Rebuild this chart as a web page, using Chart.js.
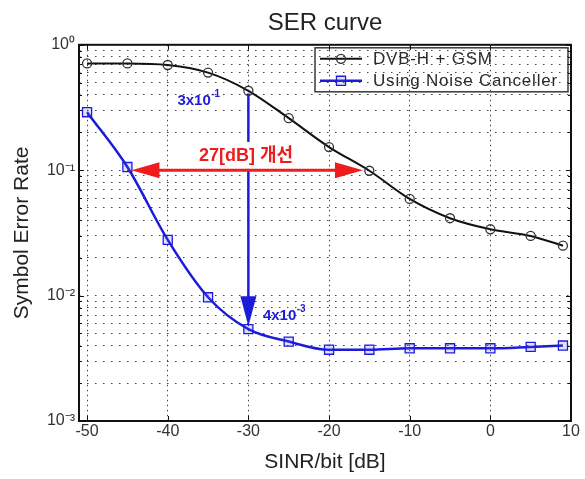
<!DOCTYPE html>
<html><head><meta charset="utf-8">
<script src="https://cdn.jsdelivr.net/npm/chart.js@4/dist/chart.umd.min.js"></script>
<style>html,body{margin:0;padding:0;background:#fff}</style>
</head><body>
<canvas id="c" width="585" height="479"></canvas>
<script>
// ---- data ----
const sinr = [-50, -45, -40, -35, -30, -25, -20, -15, -10, -5, 0, 5, 9];
const serDvbGsm = [0.71, 0.71, 0.69, 0.60, 0.43, 0.26, 0.153, 0.099, 0.059, 0.0414, 0.0338, 0.0299, 0.025];
const serNoiseCanceller = [0.29, 0.106, 0.0278, 0.0097, 0.0054, 0.0043, 0.0037, 0.0037, 0.0038, 0.0038, 0.0038, 0.0039, 0.0040];
const seriesLabels = ['DVB-H + GSM', 'Using Noise Canceller'];
const xTickValues = [-50, -40, -30, -20, -10, 0, 10];
const yDecadeValues = [0.001, 0.01, 0.1, 1];
const yTickLabels = ['10\u207B\u00B3', '10\u207B\u00B2', '10\u207B\u00B9', '10\u2070'];
const chartTitle = 'SER curve';
const xAxisTitle = 'SINR/bit [dB]';
const yAxisTitle = 'Symbol Error Rate';
const gainLabel = '27[dB] 개선';
const gainArrowX = [-44.5, -15.8];
const gainArrowY = 0.1;
const dropArrowX = -30;
const dropArrowY = [0.41, 0.0057];
const upperNote = ['3x10', '-1'];
const lowerNote = ['4x10', '-3'];

const FONT = "'Liberation Sans', Arial, Helvetica, sans-serif";
const KFONT = "'Liberation Sans', 'Noto Sans CJK KR', sans-serif";
const BLUE = '#1c1cd8';
const RED = '#ee1d1d';

const yMinorTicks = [];
yDecadeValues.slice(0, -1).forEach(d => { for (let m = 2; m <= 9; m++) yMinorTicks.push(m * d); });
const yAllTicks = yDecadeValues.concat(yMinorTicks).sort((a, b) => a - b);

function arrowHead(ctx, tx, ty, dx, dy, len, half) {
  const bx = tx - dx * len, by = ty - dy * len, px = -dy, py = dx;
  ctx.beginPath();
  ctx.moveTo(tx, ty);
  ctx.lineTo(bx + px * half, by + py * half);
  ctx.lineTo(bx - px * half, by - py * half);
  ctx.closePath();
  ctx.fill();
}
function supText(ctx, x, y, base, exp, size, color) {
  ctx.fillStyle = color; ctx.textAlign = 'left'; ctx.textBaseline = 'middle';
  ctx.font = `bold ${size}px ${FONT}`;
  ctx.fillText(base, x, y);
  const w = ctx.measureText(base).width;
  ctx.font = `bold ${Math.round(size * 0.66)}px ${FONT}`;
  ctx.fillText(exp, x + w + 0.5, y - size * 0.42);
}

const annotations = {
  id: 'serAnnotations',
  afterDatasetsDraw(chart) {
    const {ctx, chartArea: a, scales: {x, y}} = chart;
    ctx.save();
    // blue vertical arrow
    const bx = x.getPixelForValue(dropArrowX);
    const by1 = y.getPixelForValue(dropArrowY[0]);
    const by2 = y.getPixelForValue(dropArrowY[1]);
    ctx.strokeStyle = BLUE; ctx.fillStyle = BLUE; ctx.lineWidth = 2.5;
    ctx.beginPath(); ctx.moveTo(bx, by1); ctx.lineTo(bx, by2 - 20); ctx.stroke();
    arrowHead(ctx, bx, by2, 0, 1, 30, 8);
    // gain text with white backing
    ctx.font = `bold 18px ${KFONT}`;
    const tw = ctx.measureText(gainLabel).width;
    const tcx = x.getPixelForValue(-30.3), tcy = y.getPixelForValue(0.13);
    ctx.fillStyle = '#fff';
    ctx.fillRect(tcx - tw / 2 - 4, tcy - 14, tw + 8, 27);
    ctx.fillStyle = RED; ctx.textAlign = 'center'; ctx.textBaseline = 'middle';
    ctx.fillText(gainLabel, tcx, tcy);
    // red double arrow
    const ry = y.getPixelForValue(gainArrowY);
    const rx1 = x.getPixelForValue(gainArrowX[0]), rx2 = x.getPixelForValue(gainArrowX[1]);
    ctx.strokeStyle = RED; ctx.fillStyle = RED; ctx.lineWidth = 3;
    ctx.beginPath(); ctx.moveTo(rx1 + 20, ry); ctx.lineTo(rx2 - 20, ry); ctx.stroke();
    arrowHead(ctx, rx1, ry, -1, 0, 28, 8);
    arrowHead(ctx, rx2, ry, 1, 0, 28, 8);
    // blue notes
    supText(ctx, x.getPixelForValue(-38.8), y.getPixelForValue(0.36), upperNote[0], upperNote[1], 15, BLUE);
    supText(ctx, x.getPixelForValue(-28.2), y.getPixelForValue(0.0069), lowerNote[0], lowerNote[1], 15, BLUE);

    // legend
    const lx = a.right - 256, ly = a.top + 3, lw = 253, lh = 44;
    ctx.strokeStyle = '#3a3a3a'; ctx.lineWidth = 1.5;
    ctx.strokeRect(lx, ly, lw, lh);
    chart.data.datasets.forEach((ds, i) => {
      const rowY = ly + 11 + i * 22;
      ctx.strokeStyle = ds.borderColor; ctx.lineWidth = ds.borderWidth;
      ctx.beginPath(); ctx.moveTo(lx + 5, rowY); ctx.lineTo(lx + 47, rowY); ctx.stroke();
      ctx.fillStyle = ds.pointBackgroundColor; ctx.strokeStyle = ds.pointBorderColor; ctx.lineWidth = ds.pointBorderWidth;
      ctx.beginPath();
      if (ds.pointStyle === 'circle') ctx.arc(lx + 26, rowY, ds.pointRadius, 0, Math.PI * 2);
      else { const s = ds.pointRadius * Math.SQRT1_2; ctx.rect(lx + 26 - s, rowY - s, 2 * s, 2 * s); }
      ctx.fill(); ctx.stroke();
      ctx.fillStyle = '#2a2a2a'; ctx.font = `17px ${FONT}`;
      try { ctx.letterSpacing = '0.8px'; } catch (e) {}
      ctx.textAlign = 'left'; ctx.textBaseline = 'middle';
      ctx.fillText(ds.label, lx + 58, rowY + 1);
      try { ctx.letterSpacing = '0px'; } catch (e) {}
    });

    // inward ticks
    ctx.strokeStyle = '#111'; ctx.lineWidth = 1;
    x.ticks.forEach(t => {
      const px = Math.round(x.getPixelForValue(t.value)) + 0.5;
      ctx.beginPath();
      ctx.moveTo(px, a.bottom); ctx.lineTo(px, a.bottom - 5);
      ctx.moveTo(px, a.top); ctx.lineTo(px, a.top + 5);
      ctx.stroke();
    });
    y.ticks.forEach(t => {
      const py = Math.round(y.getPixelForValue(t.value)) + 0.5;
      const len = yDecadeValues.some(d => Math.abs(d - t.value) < d * 1e-6) ? 5 : 3;
      ctx.beginPath();
      ctx.moveTo(a.left, py); ctx.lineTo(a.left + len, py);
      ctx.moveTo(a.right, py); ctx.lineTo(a.right - len, py);
      ctx.stroke();
    });
    // box
    ctx.strokeStyle = '#111'; ctx.lineWidth = 2;
    ctx.strokeRect(a.left, a.top, a.right - a.left, a.bottom - a.top);
    ctx.restore();
  }
};

new Chart(document.getElementById('c'), {
  type: 'line',
  data: {
    datasets: [
      {
        label: seriesLabels[0],
        data: sinr.map((v, i) => ({x: v, y: serDvbGsm[i]})),
        borderColor: '#111', borderWidth: 2,
        pointStyle: 'circle', pointRadius: 4.5, pointBorderWidth: 1.3,
        pointBackgroundColor: 'rgba(255,255,255,0)', pointBorderColor: '#333',
        cubicInterpolationMode: 'monotone', fill: false
      },
      {
        label: seriesLabels[1],
        data: sinr.map((v, i) => ({x: v, y: serNoiseCanceller[i]})),
        borderColor: BLUE, borderWidth: 2.5,
        pointStyle: 'rect', pointRadius: 6.4, pointBorderWidth: 1.3,
        pointBackgroundColor: 'rgba(90,90,255,0.18)', pointBorderColor: BLUE,
        cubicInterpolationMode: 'monotone', fill: false
      }
    ]
  },
  options: {
    responsive: false, animation: false, devicePixelRatio: 1,
    layout: {padding: {left: 0, right: 14, top: 0, bottom: 0}},
    plugins: {
      legend: {display: false},
      tooltip: {enabled: false},
      title: {
        display: true, text: chartTitle, fullSize: false, color: '#222',
        font: {family: FONT, size: 24, weight: 'normal', lineHeight: 1.2},
        padding: {top: 9, bottom: 7}
      }
    },
    scales: {
      x: {
        type: 'linear', min: -51, max: 10, bounds: 'data',
        afterBuildTicks: s => { s.ticks = xTickValues.map(v => ({value: v})); },
        afterFit: s => { s.height = 58; },
        ticks: {autoSkip: false, maxRotation: 0, padding: 1, color: '#333', font: {family: FONT, size: 16}},
        grid: {color: '#444', lineWidth: 1, drawTicks: false},
        border: {display: false, dash: [1.5, 3.5]},
        title: {display: true, text: xAxisTitle, color: '#222', font: {family: FONT, size: 21}, padding: {top: 0, bottom: 4}}
      },
      y: {
        type: 'logarithmic', min: 0.001, max: 1,
        afterBuildTicks: s => { s.ticks = yAllTicks.map(v => ({value: v})); },
        afterFit: s => { s.width = 79; },
        ticks: {
          autoSkip: false, padding: 4, color: '#333', font: {family: FONT, size: 16},
          callback: v => {
            const i = yDecadeValues.findIndex(d => Math.abs(d - v) < d * 1e-6);
            return i >= 0 ? yTickLabels[i] : '';
          }
        },
        grid: {color: '#444', lineWidth: 1, drawTicks: false},
        border: {display: false, dash: [1.5, 6.5]},
        title: {display: true, text: yAxisTitle, color: '#222', font: {family: FONT, size: 21}, padding: {top: 10, bottom: 0}}
      }
    }
  },
  plugins: [annotations]
});
</script>
</body></html>
